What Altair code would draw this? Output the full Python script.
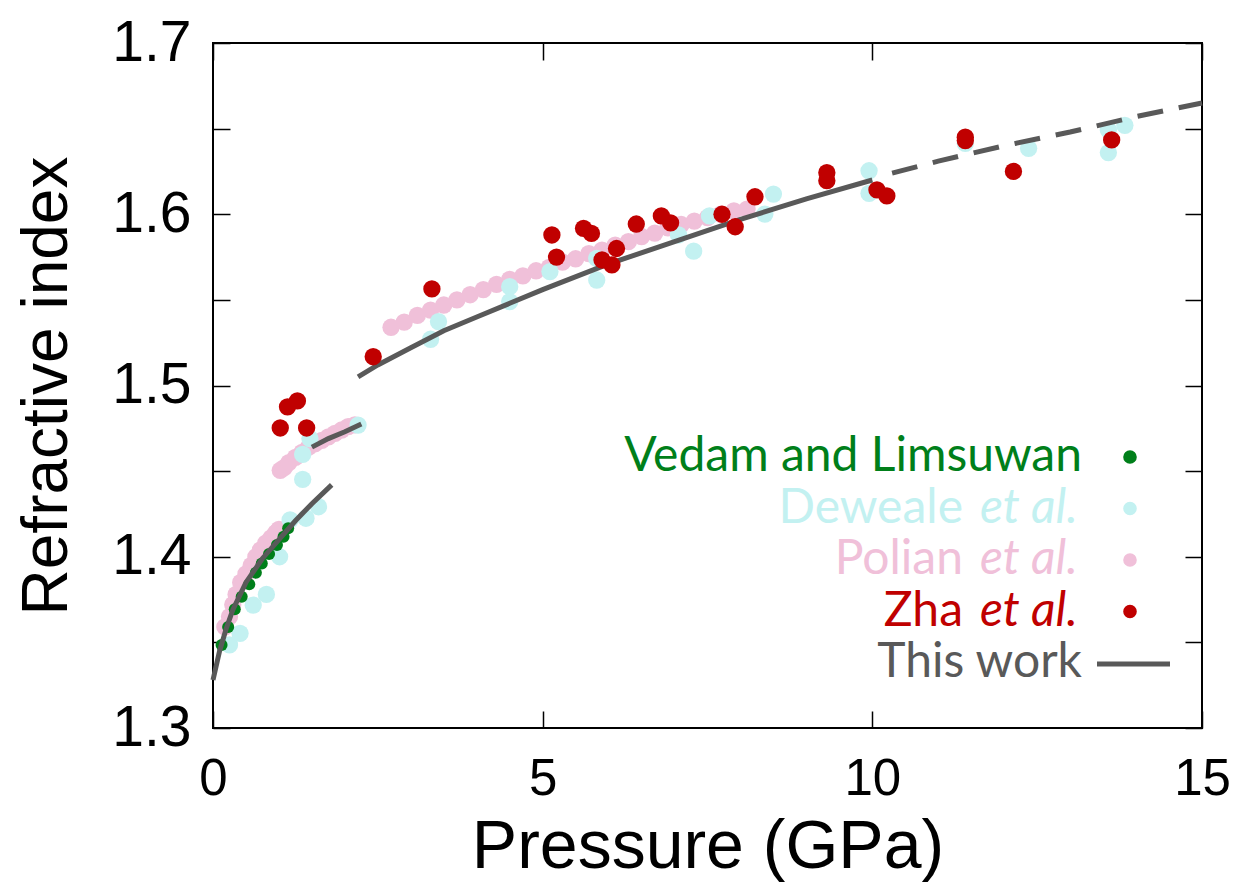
import altair as alt
import pandas as pd

# ---------------- data ----------------
vedam_p = [0.13, 0.23, 0.33, 0.435, 0.55, 0.65, 0.74, 0.85, 0.97, 1.07, 1.14]
vedam_n = [1.3485, 1.359, 1.3693, 1.3767, 1.384, 1.3907, 1.396, 1.4016, 1.4069, 1.4117, 1.4166]

dewaele_p = [0.25, 0.41, 0.61, 0.81, 1.01, 1.17, 1.41, 1.60, 1.36, 1.36, 1.47, 2.20,
             3.30, 3.42, 4.50, 4.50, 5.11, 5.82, 5.82, 7.06, 7.29, 7.53, 8.37, 8.50,
             9.95, 9.95, 11.41, 12.37, 13.58, 13.58, 13.83]
dewaele_n = [1.3485, 1.3553, 1.3718, 1.378, 1.400, 1.4215, 1.4225, 1.4292, 1.4452, 1.4598, 1.469, 1.4769,
             1.527, 1.5373, 1.5577, 1.549, 1.5665, 1.5742, 1.5616, 1.5879, 1.5785, 1.599, 1.6001, 1.6118,
             1.6254, 1.6122, 1.6414, 1.6385, 1.6492, 1.636, 1.6519]

polian_p = [0.18, 0.25, 0.30, 0.35, 0.42, 0.50, 0.58, 0.65, 0.72, 0.80, 0.88, 0.95, 1.00,
            1.02, 1.08, 1.15, 1.25, 1.35, 1.45, 1.55, 1.65, 1.75, 1.85, 1.95, 2.05, 2.15,
            2.7, 2.9, 3.1, 3.3, 3.5, 3.7, 3.9, 4.1, 4.3, 4.5, 4.7, 4.9, 5.1, 5.3, 5.5, 5.7,
            5.9, 6.1, 6.3, 6.5, 6.7, 6.9, 7.1, 7.3, 7.5, 7.7, 7.9, 8.1]
polian_n = [1.359, 1.365, 1.372, 1.378, 1.385, 1.390, 1.395, 1.400, 1.404, 1.408, 1.411, 1.414, 1.416,
            1.4505, 1.452, 1.455, 1.458, 1.461, 1.464, 1.466, 1.468, 1.470, 1.472, 1.474, 1.476, 1.477,
            1.534, 1.537, 1.541, 1.544, 1.547, 1.550, 1.553, 1.556, 1.559, 1.562, 1.564, 1.567, 1.569,
            1.572, 1.574, 1.577, 1.579, 1.582, 1.584, 1.587, 1.589, 1.592, 1.594, 1.596, 1.598, 1.600,
            1.602, 1.603]

zha_p = [1.02, 1.42, 1.13, 1.28, 2.43, 3.32, 5.14, 5.21, 5.62, 5.74, 5.90, 6.12, 6.05,
         6.42, 6.80, 6.94, 7.72, 7.92, 8.22, 9.31, 9.31, 10.07, 10.22, 11.41, 11.41, 12.14, 13.63]
zha_n = [1.4752, 1.4752, 1.4875, 1.491, 1.5168, 1.5564, 1.5879, 1.575, 1.5918, 1.5888, 1.5733,
         1.580, 1.5704, 1.5943, 1.599, 1.595, 1.600, 1.5927, 1.6102, 1.6243, 1.6196, 1.6142, 1.6107,
         1.645, 1.643, 1.625, 1.6434]

# "This work" model curve, three solid segments
seg1_p = [0.0, 0.1, 0.2, 0.3, 0.5, 0.75, 1.0, 1.25, 1.5, 1.8]
seg1_n = [1.328, 1.345, 1.358, 1.369, 1.385, 1.399, 1.410, 1.421, 1.431, 1.442]
seg2_p = [1.5, 1.75, 2.0, 2.25]
seg2_n = [1.464, 1.469, 1.473, 1.4775]
seg3_p = [2.2, 2.5, 3.0, 3.5, 4.0, 4.5, 5.0, 6.0, 7.0, 8.0, 9.0, 10.0]
seg3_n = [1.505, 1.512, 1.522, 1.532, 1.540, 1.548, 1.556, 1.571, 1.584, 1.597, 1.609, 1.620]
# extrapolation (dashed)
ext_p = [10.3, 11.0, 12.0, 13.0, 14.0, 15.0]
ext_n = [1.624, 1.631, 1.640, 1.648, 1.657, 1.665]

x_ticks = [0, 5, 10, 15]
y_ticks = [1.3, 1.35, 1.4, 1.45, 1.5, 1.55, 1.6, 1.65, 1.7]

legend_main = ["Vedam and Limsuwan", "Deweale", "Polian", "Zha", "This work"]
legend_ital = ["", "et al.", "et al.", "et al.", ""]

# ---------------- styling ----------------
C_GREEN = "#007f1a"
C_CYAN = "#c3f1f1"
C_PINK = "#f0c0d9"
C_RED = "#c00000"
C_LINE = "#595959"
legend_colors = [C_GREEN, C_CYAN, C_PINK, C_RED, C_LINE]

FONT = "Liberation Sans"
LFONT = "Lato"
W, H = 989, 685

xs = alt.Scale(domain=[0, 15], nice=False, zero=False)
ys = alt.Scale(domain=[1.3, 1.7], nice=False, zero=False)

df_vedam = pd.DataFrame({"p": vedam_p, "n": vedam_n})
df_dew = pd.DataFrame({"p": dewaele_p, "n": dewaele_n})
df_pol = pd.DataFrame({"p": polian_p, "n": polian_n})
df_zha = pd.DataFrame({"p": zha_p, "n": zha_n})
df_line = pd.DataFrame({
    "p": seg1_p + seg2_p + seg3_p,
    "n": seg1_n + seg2_n + seg3_n,
    "seg": ["a"] * len(seg1_p) + ["b"] * len(seg2_p) + ["c"] * len(seg3_p),
})
df_ext = pd.DataFrame({"p": ext_p, "n": ext_n})

x_bottom = alt.Axis(orient="bottom", values=x_ticks, offset=-17, tickSize=17, domain=False,
                    grid=False, labelFont=FONT, labelFontSize=51, labelColor="black",
                    labelPadding=26, labelFlush=False, labelOverlap=False,
                    tickColor="black", tickWidth=1.5, format="d",
                    title="Pressure (GPa)", titleFont=FONT, titleFontSize=68,
                    titleFontWeight="normal", titleColor="black", titlePadding=9)
y_left = alt.Axis(orient="left", values=y_ticks, offset=-17, tickSize=17, domain=False,
                  grid=False, labelFont=FONT, labelFontSize=57, labelColor="black",
                  labelPadding=22, labelFlush=False, labelOverlap=False,
                  labelExpr="(round(datum.value*100) % 10 == 0) ? format(datum.value, '.1f') : ''",
                  tickColor="black", tickWidth=1.5,
                  title="Refractive index", titleFont=FONT, titleFontSize=64,
                  titleFontWeight="normal", titleColor="black", titlePadding=32)
x_top = alt.Axis(orient="top", values=x_ticks, offset=-17, tickSize=17, domain=False,
                 grid=False, labels=False, tickColor="black", tickWidth=1.5, title="")
y_right = alt.Axis(orient="right", values=y_ticks, offset=-17, tickSize=17, domain=False,
                   grid=False, labels=False, tickColor="black", tickWidth=1.5, title="")

pts_size = 300

pol = alt.Chart(df_pol).mark_circle(size=pts_size, color=C_PINK, opacity=1).encode(
    x=alt.X("p:Q", scale=xs, axis=x_bottom),
    y=alt.Y("n:Q", scale=ys, axis=y_left),
)
dew = alt.Chart(df_dew).mark_circle(size=pts_size, color=C_CYAN, opacity=1).encode(
    x=alt.X("p:Q", scale=xs, axis=None),
    y=alt.Y("n:Q", scale=ys, axis=None),
)
ved = alt.Chart(df_vedam).mark_circle(size=145, color=C_GREEN, opacity=1).encode(
    x=alt.X("p:Q", scale=xs, axis=None),
    y=alt.Y("n:Q", scale=ys, axis=None),
)
line = alt.Chart(df_line).mark_line(color=C_LINE, strokeWidth=5).encode(
    x=alt.X("p:Q", scale=xs, axis=None),
    y=alt.Y("n:Q", scale=ys, axis=None),
    detail="seg:N",
)
ext = alt.Chart(df_ext).mark_line(color=C_LINE, strokeWidth=5, strokeDash=[26, 16]).encode(
    x=alt.X("p:Q", scale=xs, axis=x_top),
    y=alt.Y("n:Q", scale=ys, axis=y_right),
)
zha = alt.Chart(df_zha).mark_circle(size=pts_size, color=C_RED, opacity=1).encode(
    x=alt.X("p:Q", scale=xs, axis=None),
    y=alt.Y("n:Q", scale=ys, axis=None),
)

# ---------------- custom legend ----------------
LX_RIGHT = 869      # right edge of legend text (plot coords)
LX_ITAL = 767       # left edge of the italic "et al."
LX_REG = 750        # right edge of the regular text before "et al."
LY0, LDY = 414, 51.5
n_leg = len(legend_main)
leg_df = pd.DataFrame({
    "main": legend_main,
    "ital": legend_ital,
    "col": legend_colors,
    "ty": [LY0 + i * LDY for i in range(n_leg)],
    "tx": [LX_RIGHT if legend_ital[i] == "" else LX_REG for i in range(n_leg)],
    "ix": [LX_ITAL] * n_leg,
    "sx": [917] * n_leg,
    "kind": ["pt", "pt", "pt", "pt", "ln"],
})

leg_main = alt.Chart(leg_df).mark_text(font=LFONT, fontSize=48, align="right", baseline="middle").encode(
    x=alt.X("tx:Q", scale=None), y=alt.Y("ty:Q", scale=None),
    text="main:N", color=alt.Color("col:N", scale=None),
)
leg_ital = alt.Chart(leg_df).transform_filter("datum.ital != ''").mark_text(
    font=LFONT, fontSize=48, fontStyle="italic", align="left", baseline="middle").encode(
    x=alt.X("ix:Q", scale=None), y=alt.Y("ty:Q", scale=None),
    text="ital:N", color=alt.Color("col:N", scale=None),
)
leg_pts = alt.Chart(leg_df).transform_filter("datum.kind == 'pt'").mark_circle(size=185, opacity=1).encode(
    x=alt.X("sx:Q", scale=None), y=alt.Y("ty:Q", scale=None),
    color=alt.Color("col:N", scale=None),
)
leg_ln = alt.Chart(leg_df).transform_filter("datum.kind == 'ln'").transform_calculate(
    x1="datum.sx - 33", x2="datum.sx + 40", yy="datum.ty + 1").mark_rule(
    color=C_LINE, strokeWidth=5).encode(
    x=alt.X("x1:Q", scale=None), x2="x2:Q", y=alt.Y("yy:Q", scale=None),
)

chart = alt.layer(pol, dew, ved, line, ext, zha, leg_main, leg_ital, leg_pts, leg_ln).resolve_axis(
    x="independent", y="independent"
).properties(
    width=W, height=H,
    autosize=alt.AutoSizeParams(type="none"),
    padding={"left": 213, "top": 43, "right": 34, "bottom": 157},
    background="white",
).configure_view(stroke="black", strokeWidth=2)

chart.save("out.html", embed_options={"renderer": "svg", "actions": False})
